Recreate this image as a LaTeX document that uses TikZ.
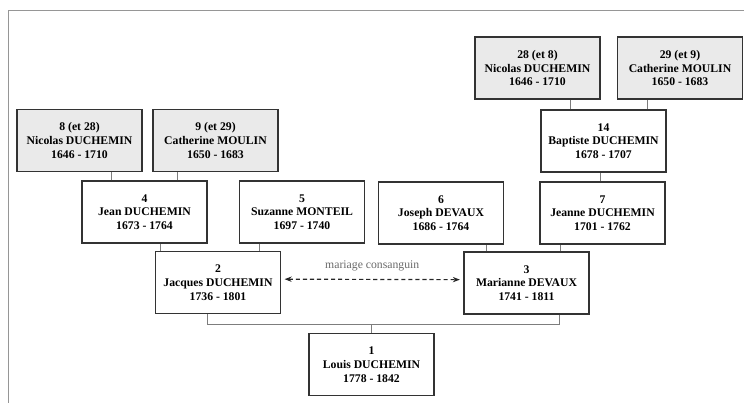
\documentclass[tikz,border=0pt]{standalone}
\usepackage{fontspec}
\setmainfont{Liberation Serif}
\usetikzlibrary{arrows.meta,positioning}
\definecolor{ancgray}  {RGB}{234,234,234}
\definecolor{linkgray} {RGB}{125,125,125}
\definecolor{framegray}{RGB}{150,150,150}
\definecolor{textgray} {RGB}{105,105,105}
\tikzset{
  person/.style  ={draw=black!80, line width=1pt, align=center,
                   minimum width=3.75cm, minimum height=1.86cm,
                   inner sep=2pt, font=\fontsize{10}{11.7}\selectfont\bfseries},
  ancestor/.style={person, fill=ancgray},
  link/.style    ={draw=linkgray, line width=0.75pt},
  marr/.style    ={{Stealth[length=6pt,width=4.5pt]}-{Stealth[length=6pt,width=4.5pt]},
                   dash pattern=on 3.5pt off 2.5pt, line width=1pt, black!85,
                   shorten <=3pt, shorten >=3pt},
}

\begin{document}
\begin{tikzpicture}[x=0.03cm, y=-0.03cm]
  \useasboundingbox (0,0) rectangle (744,403);
  \draw[framegray, line width=0.8pt] (8.5,403) -- (8.5,10.5) -- (744,10.5);

  %% great-grandparents
  \node[ancestor] (p28) at (537.5,68) {28 (et 8)\\Nicolas DUCHEMIN\\1646 - 1710};
  \node[ancestor] (p29) at (680,68)   {29 (et 9)\\Catherine MOULIN\\1650 - 1683};
  \node[ancestor] (p8)  at (79.5,140.5)  {8 (et 28)\\Nicolas DUCHEMIN\\1646 - 1710};
  \node[ancestor] (p9)  at (215.5,140.5) {9 (et 29)\\Catherine MOULIN\\1650 - 1683};
  \node[person]   (p14) at (603.5,141) {14\\Baptiste DUCHEMIN\\1678 - 1707};

  %% grandparents
  \node[person] (p4) at (144.5,212) {4\\Jean DUCHEMIN\\1673 - 1764};
  \node[person] (p5) at (302,212)   {5\\Suzanne MONTEIL\\1697 - 1740};
  \node[person] (p6) at (441,213)   {6\\Joseph DEVAUX\\1686 - 1764};
  \node[person] (p7) at (602.5,213) {7\\Jeanne DUCHEMIN\\1701 - 1762};

  %% parents and child
  \node[person] (p2) at (218,282.5) {2\\Jacques DUCHEMIN\\1736 - 1801};
  \node[person] (p3) at (526.5,283) {3\\Marianne DEVAUX\\1741 - 1811};
  \node[person] (p1) at (371.5,364.5) {1\\Louis DUCHEMIN\\1778 - 1842};

  %% filiation links
  \draw[link] ([xshift=0.9cm]p4.north west)   -- ([xshift=0.9cm]p4.north west |- p8.south);
  \draw[link] ([xshift=-0.9cm]p4.north east)  -- ([xshift=-0.9cm]p4.north east |- p9.south);
  \draw[link] ([xshift=0.9cm]p14.north west)  -- ([xshift=0.9cm]p14.north west |- p28.south);
  \draw[link] ([xshift=-0.57cm]p14.north east) -- ([xshift=-0.57cm]p14.north east |- p29.south);
  \draw[link] ([xshift=-0.06cm]p7.north) -- ([xshift=-0.06cm]p7.north |- p14.south);
  \draw[link] ([xshift=0.18cm]p2.north west)  -- ([xshift=0.18cm]p2.north west |- p4.south);
  \draw[link] ([xshift=-0.66cm]p2.north east) -- ([xshift=-0.66cm]p2.north east |- p5.south);
  \draw[link] ([xshift=0.69cm]p3.north west)  -- ([xshift=0.69cm]p3.north west |- p6.south);
  \draw[link] ([xshift=-0.87cm]p3.north east) -- ([xshift=-0.87cm]p3.north east |- p7.south);

  \coordinate (bar) at ([yshift=0.24cm]p1.north);
  \draw[link] ([xshift=-0.33cm]p2.south) |- (bar) -| ([xshift=1cm]p3.south);
  \draw[link] (bar) -- (p1.north);

  %% consanguineous marriage
  \draw[marr] ([yshift=0.1cm]p2.east) -- ([yshift=0.1cm]p3.west)
        node[midway, yshift=0.42cm, font=\fontsize{10}{12}\selectfont, text=textgray]
        {mariage consanguin};
\end{tikzpicture}
\end{document}
